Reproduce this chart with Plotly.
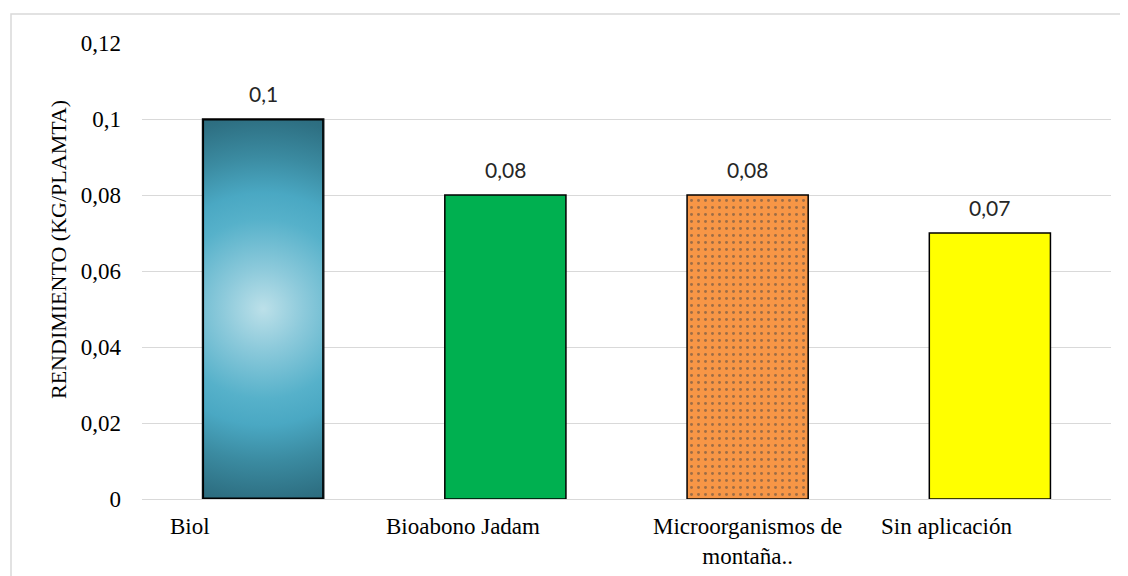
import base64
import plotly.graph_objects as go

# ---- data ----
categories = ["Biol", "Bioabono Jadam", "Microorganismos de<br>montaña..", "Sin aplicación"]
values = [0.10, 0.08, 0.08, 0.07]
tick_vals = [0, 0.02, 0.04, 0.06, 0.08, 0.10, 0.12]
tick_text = ["0", "0,02", "0,04", "0,06", "0,08", "0,1", "0,12"]
y_title = "RENDIMIENTO (KG/PLAMTA)"

# ---- style ----
bar_colors = ["#4BACC6", "#00B050", "#F79646", "#FFFF00"]
pattern_shapes = ["", "", ".", ""]
label_dx = [-73, -42, 0, -43]   # horizontal offsets of category labels (px)
bar_width = 0.5
OFF = 8  # page body margin compensation
W, H = 1128 - OFF, 576 - OFF
ML, MT = 142 - OFF, 43 - OFF
pw, ph = 969, 456
MR, MB = W - ML - pw, H - MT - ph

xs = list(range(len(categories)))

fig = go.Figure()
fig.add_trace(go.Bar(
    x=xs, y=values, width=bar_width,
    marker=dict(color=bar_colors,
                line=dict(color="black", width=1.5),
                pattern=dict(shape=pattern_shapes, fgcolor="black",
                             bgcolor=bar_colors, size=7, solidity=0.14,
                             fillmode="overlay")),
    hoverinfo="skip", showlegend=False,
))

# radial gradient for first bar (style overlay sized from data)
svg = ('<svg xmlns="http://www.w3.org/2000/svg" width="120" height="380" '
       'viewBox="0 0 120 380" preserveAspectRatio="none">'
       '<defs><radialGradient id="g" gradientUnits="userSpaceOnUse" cx="60" cy="190" r="200">'
       '<stop offset="0" stop-color="#BCE0E9"/>'
       '<stop offset="0.2" stop-color="#8DCADB"/>'
       '<stop offset="0.45" stop-color="#56B1CA"/>'
       '<stop offset="0.58" stop-color="#4AA8C3"/>'
       '<stop offset="0.76" stop-color="#3B8BA1"/>'
       '<stop offset="0.95" stop-color="#2E7083"/>'
       '<stop offset="1" stop-color="#2C6B7D"/>'
       '</radialGradient></defs>'
       '<rect x="0" y="0" width="120" height="380" fill="url(#g)" stroke="#000" stroke-width="3"/>'
       '</svg>')
src = "data:image/svg+xml;base64," + base64.b64encode(svg.encode()).decode()
fig.add_layout_image(dict(source=src, xref="x", yref="y",
                          x=xs[0] - bar_width / 2, y=values[0],
                          sizex=bar_width, sizey=values[0],
                          xanchor="left", yanchor="top",
                          sizing="stretch", layer="above"))

annotations = []
for i, v in enumerate(values):
    annotations.append(dict(x=xs[i], y=v, xref="x", yref="y",
                            text=("%g" % v).replace(".", ","),
                            showarrow=False, yanchor="bottom", yshift=11,
                            font=dict(family="Lato", size=21, color="#262626")))
for i, c in enumerate(categories):
    annotations.append(dict(x=xs[i], y=0, xref="x", yref="paper",
                            text=c, showarrow=False, yanchor="top",
                            xanchor="center", xshift=label_dx[i], yshift=-13,
                            font=dict(family="Liberation Serif", size=23, color="black")))
annotations.append(dict(x=(58 - 142) / pw, y=(499 - 250) / ph, xref="paper", yref="paper",
                        text=y_title, textangle=-90, showarrow=False,
                        xanchor="center", yanchor="middle",
                        font=dict(family="Liberation Serif", size=22, color="black")))

shapes = [dict(type="rect", xref="paper", yref="paper",
               x0=(11 - 142) / pw, x1=2, y0=-2, y1=(499 - 14) / ph,
               line=dict(color="#D9D9D9", width=1.5), fillcolor="rgba(0,0,0,0)",
               layer="below")]

fig.update_layout(
    width=W, height=H,
    margin=dict(l=ML, r=MR, t=MT, b=MB),
    plot_bgcolor="white", paper_bgcolor="white",
    bargap=0.5,
    xaxis=dict(range=[-0.5, len(categories) - 0.5], showticklabels=False,
               showgrid=False, zeroline=False, showline=False, fixedrange=True),
    yaxis=dict(range=[0, 0.12], tickvals=tick_vals, ticktext=tick_text,
               showgrid=True, gridcolor="#D9D9D9", gridwidth=1.3,
               zeroline=True, zerolinecolor="#D9D9D9", zerolinewidth=1.3,
               showline=False, ticks="", ticklabelstandoff=20,
               tickfont=dict(family="Liberation Serif", size=23, color="black")),
    annotations=annotations,
    shapes=shapes,
    font=dict(family="Liberation Serif"),
)

fig.write_html("out.html")
